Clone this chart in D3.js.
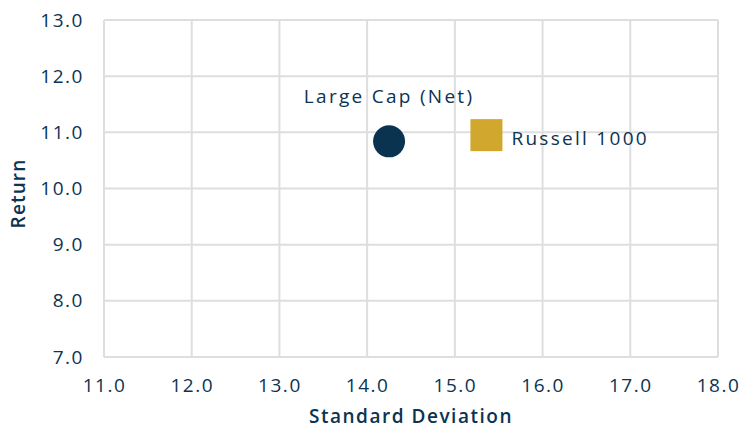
<!DOCTYPE html>
<html>
<head>
<meta charset="utf-8">
<script src="https://cdn.jsdelivr.net/npm/d3@7"></script>
<style>
  body { margin: 0; background: #fff; }
  text { font-family: "Open Sans", sans-serif; fill: #0b3352; }
</style>
</head>
<body>
<div id="chart"></div>
<script>
// chart data
let names = ['Large Cap (Net)', 'Russell 1000'];
let stdDev = [14.25, 15.36];
let returns = [10.84, 10.95];
let shapes = ['circle', 'square'];
let colors = ['#0a3350', '#d1a82d'];

let xTicks = [11, 12, 13, 14, 15, 16, 17, 18];
let yTicks = [7, 8, 9, 10, 11, 12, 13];

let svgWidth = 742;
let svgHeight = 426;

let margin = { top: 20, right: 24, bottom: 69, left: 104 };
let width = svgWidth - margin.left - margin.right;
let height = svgHeight - margin.top - margin.bottom;

let svg = d3.select('#chart').append('svg')
  .attr('width', svgWidth)
  .attr('height', svgHeight);

let chartGroup = svg.append('g')
  .attr('transform', `translate(${margin.left}, ${margin.top})`);

let x = d3.scaleLinear().domain([11, 18]).range([0, width]);
let y = d3.scaleLinear().domain([7, 13]).range([height, 0]);

// grid lines
chartGroup.append('g').selectAll('line')
  .data(xTicks)
  .enter().append('line')
  .attr('x1', d => x(d)).attr('x2', d => x(d))
  .attr('y1', 0).attr('y2', height)
  .attr('stroke', '#dedede').attr('stroke-width', 2);

chartGroup.append('g').selectAll('line')
  .data(yTicks)
  .enter().append('line')
  .attr('x1', 0).attr('x2', width)
  .attr('y1', d => y(d)).attr('y2', d => y(d))
  .attr('stroke', '#dedede').attr('stroke-width', 2);

// axes (labels only)
let xAxis = chartGroup.append('g')
  .attr('transform', `translate(0, ${height})`)
  .call(d3.axisBottom(x).tickValues(xTicks).tickFormat(d3.format('.1f')).tickSize(0).tickPadding(22));
xAxis.select('.domain').remove();
xAxis.selectAll('text').attr('font-size', '19px').attr('font-family', null).style('letter-spacing', '0.08em');

let yAxis = chartGroup.append('g')
  .call(d3.axisLeft(y).tickValues(yTicks).tickFormat(d3.format('.1f')).tickSize(0).tickPadding(20));
yAxis.select('.domain').remove();
yAxis.selectAll('text').attr('font-size', '19px').attr('font-family', null).style('letter-spacing', '0.08em');

// axis titles
chartGroup.append('text')
  .attr('x', width / 2)
  .attr('y', height + 66)
  .attr('text-anchor', 'middle')
  .attr('font-size', '19px')
  .attr('font-weight', 600)
  .style('letter-spacing', '0.08em')
  .text('Standard Deviation');

chartGroup.append('text')
  .attr('transform', 'rotate(-90)')
  .attr('x', -height / 2 - 5)
  .attr('y', -79)
  .attr('text-anchor', 'middle')
  .attr('font-size', '19px')
  .attr('font-weight', 600)
  .style('letter-spacing', '0.06em')
  .text('Return');

// points
let data = names.map((n, i) => ({ name: n, sd: stdDev[i], ret: returns[i], shape: shapes[i], color: colors[i] }));

data.forEach(d => {
  if (d.shape === 'circle') {
    chartGroup.append('circle')
      .attr('cx', x(d.sd)).attr('cy', y(d.ret))
      .attr('r', 16)
      .attr('fill', d.color);
    chartGroup.append('text')
      .attr('x', x(d.sd))
      .attr('y', y(d.ret) - 38)
      .attr('text-anchor', 'middle')
      .attr('font-size', '19px')
      .style('letter-spacing', '0.12em')
      .text(d.name);
  } else {
    chartGroup.append('rect')
      .attr('x', x(d.sd) - 16).attr('y', y(d.ret) - 16)
      .attr('width', 32).attr('height', 32)
      .attr('fill', d.color);
    chartGroup.append('text')
      .attr('x', x(d.sd) + 25)
      .attr('y', y(d.ret) + 10)
      .attr('font-size', '19px')
      .style('letter-spacing', '0.12em')
      .text(d.name);
  }
});
</script>
</body>
</html>
